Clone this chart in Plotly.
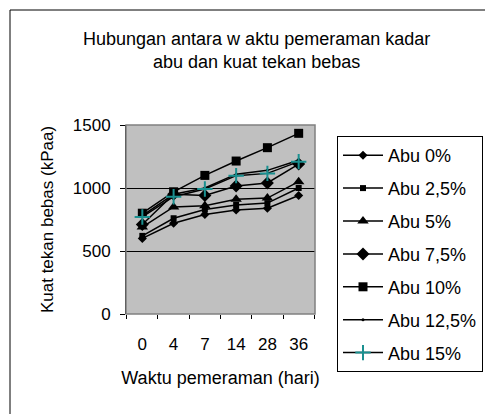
import plotly.graph_objects as go

days = ["0", "4", "7", "14", "28", "36"]
abu_0 = [600, 720, 790, 825, 840, 940]
abu_2_5 = [620, 760, 830, 865, 880, 1000]
abu_5 = [690, 850, 860, 910, 920, 1050]
abu_7_5 = [710, 950, 940, 1015, 1040, 1190]
abu_10 = [800, 970, 1100, 1214, 1320, 1434]
abu_12_5 = [780, 950, 1000, 1110, 1140, 1220]
abu_15 = [770, 931, 992, 1098, 1116, 1209]

series = [
    ("Abu 0%", abu_0, "diamond", 7, "black"),
    ("Abu 2,5%", abu_2_5, "square", 6, "black"),
    ("Abu 5%", abu_5, "triangle-up", 10, "black"),
    ("Abu 7,5%", abu_7_5, "diamond", 10, "black"),
    ("Abu 10%", abu_10, "square", 9, "black"),
    ("Abu 12,5%", abu_12_5, "circle", 3, "black"),
    ("Abu 15%", abu_15, "cross-thin", 11, "#1a9090"),
]

font = "Arial, Liberation Sans, sans-serif"
fig = go.Figure()
for i, (name, vals, sym, size, col) in enumerate(series):
    fig.add_trace(go.Scatter(
        x=days, y=vals, name=name, mode="lines+markers",
        legendgroup=f"g{i}",
        line=dict(color="black", width=1.5),
        marker=dict(symbol=sym, size=size, color=col,
                    line=dict(color=col, width=2 if sym == "cross-thin" else 0)),
    ))

OFF = 8  # page body margin
W, H = 493, 414
L, R, T, B = 126 - OFF, 315 - OFF, 125 - OFF, 314 - OFF
def px(x):
    return (x - OFF - L) / (R - L)
def py(y):
    return (B - (y - OFF)) / (B - T)

fig.update_layout(
    width=W, height=H,
    margin=dict(l=L, r=W - R, t=T, b=H - B),
    paper_bgcolor="white", plot_bgcolor="#c0c0c0",
    font=dict(family=font, size=17, color="black"),
    showlegend=True,
    legend=dict(
        x=px(337), y=py(136), xanchor="left", yanchor="top",
        bordercolor="black", borderwidth=1, bgcolor="white",
        font=dict(size=18), tracegroupgap=6.5, maxheight=400,
        itemwidth=40,
    ),
    xaxis=dict(
        type="category", tickson="boundaries", ticks="outside", ticklen=4,
        tickcolor="black", showgrid=False, showline=False, ticklabelstandoff=18,
        tickfont=dict(size=17), title=dict(text="Waktu pemeraman (hari)", font=dict(size=18), standoff=18),
    ),
    yaxis=dict(
        range=[0, 1500], tickvals=[0, 500, 1000, 1500], ticks="outside", ticklen=5,
        tickcolor="black", showgrid=True, gridcolor="black", gridwidth=1,
        showline=True, linecolor="black", linewidth=1, zeroline=False, ticklabelstandoff=6,
        tickfont=dict(size=17), title=dict(text="Kuat tekan bebas (kPaa)", font=dict(size=17), standoff=14),
    ),
    shapes=[
        dict(type="rect", xref="paper", yref="paper", x0=0, x1=1, y0=0, y1=1,
             line=dict(color="#808080", width=1.5), layer="above"),
        dict(type="rect", xref="paper", yref="paper", x0=px(10), x1=px(540), y0=py(460), y1=py(10),
             line=dict(color="black", width=1)),
    ],
    annotations=[
        dict(text="Hubungan antara w aktu pemeraman kadar<br>abu dan kuat tekan bebas",
             xref="paper", yref="paper", x=px(256), y=py(50), xanchor="center", yanchor="middle",
             showarrow=False, font=dict(size=18)),
    ],
)
fig.write_html("out.html")
